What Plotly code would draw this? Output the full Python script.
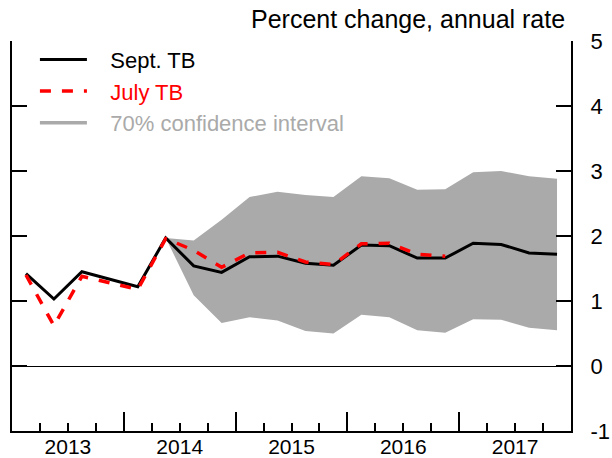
import plotly.graph_objects as go

# ---- data ----
quarters = [f"{y}Q{q}" for y in range(2013, 2018) for q in range(1, 5)]
years = ["2013", "2014", "2015", "2016", "2017"]
y_ticks = [-1, 0, 1, 2, 3, 4, 5]
y_tick_text = ["-1", "0", "1", "2", "3", "4", "5"]
sept_tb = [1.42, 1.03, 1.45, 1.33, 1.22, 1.97, 1.54, 1.44, 1.68, 1.69,
           1.58, 1.55, 1.86, 1.85, 1.66, 1.66, 1.89, 1.87, 1.74, 1.72]
july_tb = [1.40, 0.62, 1.38, 1.28, 1.18, 1.96, 1.78, 1.52, 1.74, 1.75,
           1.60, 1.56, 1.88, 1.89, 1.72, 1.69]
ci_start = 5  # index of 2014Q2
ci_upper = [1.97, 1.93, 2.25, 2.60, 2.68, 2.63, 2.60, 2.92, 2.89, 2.71,
            2.72, 2.98, 3.00, 2.92, 2.88]
ci_lower = [1.97, 1.09, 0.66, 0.75, 0.70, 0.54, 0.50, 0.79, 0.75, 0.55,
            0.51, 0.72, 0.71, 0.59, 0.55]

FONT = "Liberation Sans, Arial, sans-serif"
GRAY = "#aaaaaa"
PAD = "\u00a0\u00a0\u00a0"

n_q = len(quarters)
xq = [i + 0.5 for i in range(n_q)]
x_ci = xq[ci_start:ci_start + len(ci_upper)]
year_bounds = list(range(4, n_q, 4))
quarter_bounds = [b for b in range(0, n_q + 1) if b % 4 != 0]
year_centers = [b + 2 for b in range(0, n_q, 4)]

fig = go.Figure()
fig.add_trace(go.Scatter(x=x_ci, y=ci_lower, mode="lines", line=dict(width=0, color=GRAY),
                         showlegend=False, hoverinfo="skip"))
fig.add_trace(go.Scatter(x=x_ci, y=ci_upper, mode="lines", line=dict(width=0, color=GRAY),
                         fill="tonexty", fillcolor=GRAY, showlegend=False, hoverinfo="skip"))
fig.add_trace(go.Scatter(x=xq, y=sept_tb, mode="lines", name=PAD + "Sept. TB",
                         line=dict(color="black", width=3), legendrank=1))
fig.add_trace(go.Scatter(x=xq[:len(july_tb)], y=july_tb, mode="lines",
                         name=PAD + '<span style="color:#ff0000">July TB</span>',
                         line=dict(color="#ff0000", width=3.5, dash="11px,11px"), legendrank=2))
fig.add_trace(go.Scatter(x=[None], y=[None], mode="lines",
                         name=PAD + f'<span style="color:{GRAY}">70% confidence interval</span>',
                         line=dict(color=GRAY, width=3.5), legendrank=3))
# dummy trace on xaxis2 so the year labels render
fig.add_trace(go.Scatter(x=[None], y=[None], xaxis="x2", showlegend=False, hoverinfo="skip"))

fig.update_layout(
    width=612, height=458,
    margin=dict(l=12, r=41, t=41, b=27, autoexpand=False),
    paper_bgcolor="white", plot_bgcolor="white",
    font=dict(family=FONT, size=22, color="black"),
    showlegend=True,
    legend=dict(x=0.041, y=1.006, xanchor="left", yanchor="top", bgcolor="rgba(0,0,0,0)",
                font=dict(size=22), itemwidth=47, traceorder="normal", tracegroupgap=0),
    xaxis=dict(range=[0, n_q], tickvals=year_bounds, ticks="inside", ticklen=19,
               tickwidth=2, tickcolor="black", showticklabels=False, showline=True,
               linewidth=2, linecolor="black", showgrid=False, zeroline=False,
               automargin=False,
               minor=dict(tickvals=quarter_bounds, ticks="inside", ticklen=8, tickwidth=2,
                          tickcolor="black", showgrid=False)),
    xaxis2=dict(range=[0, n_q], overlaying="x", side="bottom", anchor="y",
                tickvals=year_centers, ticktext=years, ticks="", showline=False,
                showgrid=False, zeroline=False, tickfont=dict(size=21),
                ticklabelstandoff=1, automargin=False),
    yaxis=dict(range=[-1, 5], tickvals=y_ticks, ticktext=y_tick_text, side="right",
               ticks="inside", ticklen=15,
               tickwidth=2, tickcolor="black", showline=True, linewidth=2,
               linecolor="black", mirror="ticks", showgrid=False, zeroline=True,
               zerolinecolor="black", zerolinewidth=1, ticklabelstandoff=13,
               tickfont=dict(size=22), automargin=False),
    annotations=[dict(text="Percent change, annual rate", xref="paper", yref="paper",
                      x=1, y=1, xanchor="right", yanchor="bottom", xshift=-4, yshift=6,
                      showarrow=False, font=dict(size=25))],
)

fig.write_html("out.html", config={"displayModeBar": False},
               post_script="document.body.style.margin='0';document.body.style.overflow='hidden';")
